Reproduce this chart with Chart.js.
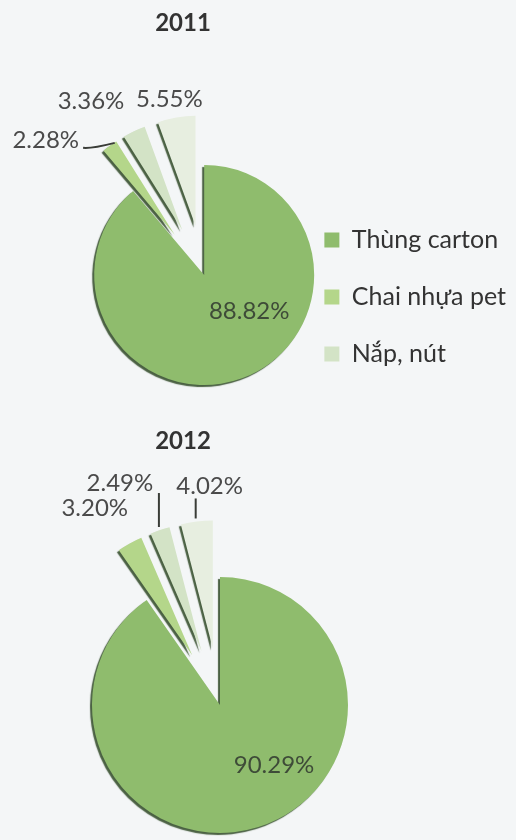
<!DOCTYPE html>
<html>
<head>
<meta charset="utf-8">
<script src="https://cdn.jsdelivr.net/npm/chart.js@4.4.1/dist/chart.umd.min.js"></script>
<style>
  html, body { margin: 0; padding: 0; background: #f4f6f7; }
  body { position: relative; width: 516px; height: 840px; overflow: hidden; font-family: Lato, sans-serif; }
  .year { position: absolute; left: 133px; width: 100px; text-align: center; font-weight: 700; font-size: 24px; color: #333; z-index: 2; }
  .box { position: absolute; left: 0; width: 516px; }
</style>
</head>
<body>
<div class="box" style="top:0;height:450px"><canvas id="chart-2011"></canvas></div>
<div class="box" style="top:440px;height:400px"><canvas id="chart-2012"></canvas></div>
<div class="year" style="top:7px">2011</div>
<div class="year" style="top:425px">2012</div>
<script>
const categories = ['Thùng carton', 'Chai nhựa pet', 'Nắp, nút', 'Khác']
const share2011 = [88.82, 2.28, 3.36, 5.55]
const share2012 = [90.29, 3.20, 2.49, 4.02]
const sliceColors = ['#8fbc6d', '#b4d68a', '#d3e3c6', '#e7eee0']

// pull the small slices out from the centre without shrinking them
const explodeSlices = {
    id: 'explodeSlices',
    afterDatasetUpdate(chart, args, opts) {
        chart.getDatasetMeta(0).data.forEach((arc, i) => {
            const mid = (arc.startAngle + arc.endAngle) / 2
            const d = opts.distance[i] || 0
            arc.x += Math.cos(mid) * d
            arc.y += Math.sin(mid) * d
        })
    }
}

// shadow under the slices + percentage labels with their leader lines
const sliceLabels = {
    id: 'sliceLabels',
    beforeDatasetsDraw(chart) {
        const ctx = chart.ctx
        ctx.save()
        ctx.shadowColor = 'rgba(45, 70, 35, 0.85)'
        ctx.shadowOffsetX = -2
        ctx.shadowOffsetY = 2
        ctx.shadowBlur = 1
    },
    afterDatasetsDraw(chart, args, opts) {
        const ctx = chart.ctx
        ctx.restore()
        const meta = chart.getDatasetMeta(0)
        const values = chart.data.datasets[0].data

        meta.data.forEach((arc, i) => {
            const p = arc.getProps(['x', 'y', 'startAngle', 'endAngle', 'outerRadius'], true)
            const mid = (p.startAngle + p.endAngle) / 2
            const r = i === 0 ? 0 : p.outerRadius
            const ax = p.x + Math.cos(mid) * r
            const ay = p.y + Math.sin(mid) * r
            const tx = ax + opts.nudge[i][0]
            const ty = ay + opts.nudge[i][1]
            const text = values[i].toFixed(2) + '%'

            ctx.save()
            ctx.font = '24px Lato'
            ctx.fillStyle = i === 0 ? '#3e4b38' : '#4a4a4a'
            ctx.textAlign = 'center'
            ctx.textBaseline = 'middle'
            ctx.fillText(text, tx, ty)

            const lead = opts.leader[i]
            if (lead) {
                ctx.strokeStyle = '#3a3d38'
                ctx.lineWidth = 2
                ctx.beginPath()
                if (lead.type === 'side') {
                    const half = ctx.measureText(text).width / 2
                    ctx.moveTo(ax + 5, ay - 3)
                    ctx.quadraticCurveTo(tx + half + 12, ty + 9, tx + half + 4, ty + 8)
                } else {
                    ctx.moveTo(ax - 1, ay - 3)
                    ctx.lineTo(ax - 1, ay - 3 - lead.len)
                }
                ctx.stroke()
            }
            ctx.restore()
        })
    }
}

const makePie = (id, values, opts) => {
    const el = document.getElementById(id)
    return new Chart(el.getContext('2d'), {
        type: 'pie',
        data: {
            labels: categories,
            datasets: [{
                data: values,
                backgroundColor: sliceColors,
                borderWidth: 0,
                clip: false
            }]
        },
        options: {
            responsive: true,
            maintainAspectRatio: false,
            animation: false,
            radius: opts.radius,
            layout: { padding: opts.padding },
            plugins: {
                tooltip: { enabled: false },
                legend: opts.legend,
                explodeSlices: { distance: opts.explode },
                sliceLabels: { nudge: opts.nudge, leader: opts.leader }
            }
        },
        plugins: [explodeSlices, sliceLabels]
    })
}

makePie('chart-2011', share2011, {
    radius: 110,
    explode: [0, 50, 50, 50],
    padding: { left: 116, right: 0, top: 100, bottom: 0 },
    nudge: [[45, 36], [-64, -6], [-43, -30], [-7, -18]],
    leader: [null, { type: 'side' }, null, null],
    legend: {
        display: true,
        position: 'right',
        maxWidth: 260,
        title: { display: true, text: '', font: { size: 10 }, padding: { top: 32, bottom: 0 } },
        labels: {
            font: { family: 'Lato', size: 25 },
            color: '#333',
            boxWidth: 15,
            boxHeight: 15,
            padding: 32,
            filter: item => item.index < 3
        }
    }
})

makePie('chart-2012', share2012, {
    radius: 128,
    explode: [0, 57, 57, 57],
    padding: { left: 0, right: 76, top: 130, bottom: 0 },
    nudge: [[54, 60], [-35, -35], [-40, -47], [13, -35]],
    leader: [null, null, { type: 'up', len: 34 }, { type: 'up', len: 20 }],
    legend: { display: false }
})
</script>
</body>
</html>
